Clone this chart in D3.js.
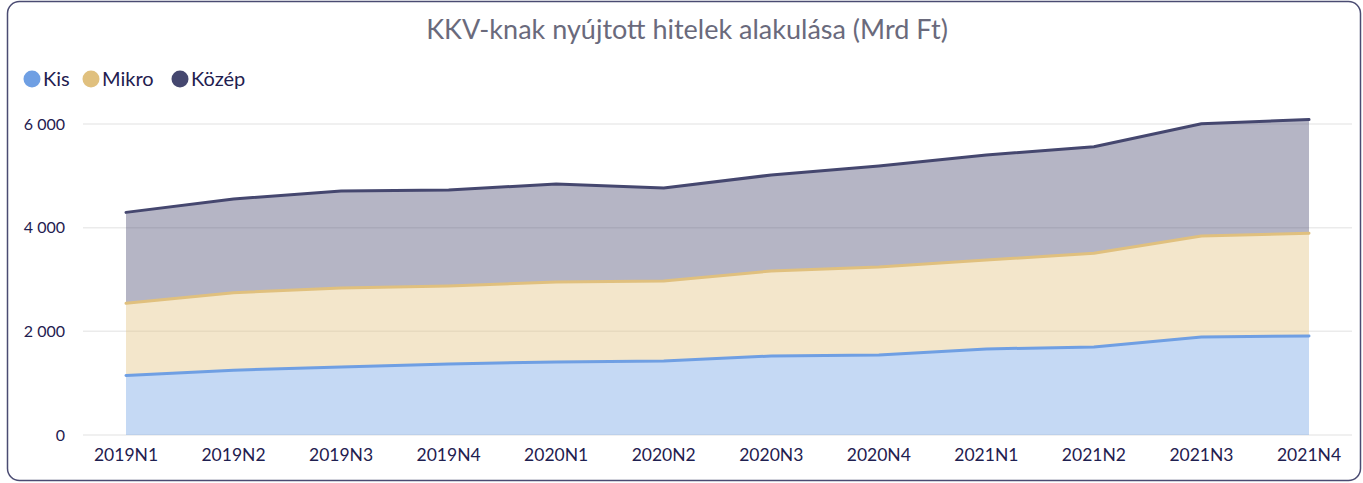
<!DOCTYPE html>
<html>
<head>
<meta charset="utf-8">
<script src="https://cdn.jsdelivr.net/npm/d3@7"></script>
<style>
  body { margin: 0; background: #fff; }
  svg { display: block; }
</style>
</head>
<body>
<svg id="chart" width="1363" height="483"></svg>
<script>
// values (Mrd Ft)
var quarters = ["2019N1", "2019N2", "2019N3", "2019N4", "2020N1", "2020N2",
                "2020N3", "2020N4", "2021N1", "2021N2", "2021N3", "2021N4"];
var kis   = [1150, 1250, 1310, 1370, 1410, 1430, 1525, 1545, 1660, 1700, 1890, 1910];
var mikro = [1390, 1495, 1526, 1505, 1542, 1541, 1639, 1696, 1716, 1806, 1950, 1982];
var kozep = [1755, 1810, 1872, 1852, 1891, 1795, 1852, 1949, 2026, 2054, 2165, 2193];
var yTicks = [0, 2000, 4000, 6000];

var seriesNames = ["Kis", "Mikro", "Közép"];
var colors = { "Kis": "#6f9fe3", "Mikro": "#e0c07e", "Közép": "#45476f" };

var rows = quarters.map(function(q, i) {
    return { q: q, "Kis": kis[i], "Mikro": mikro[i], "Közép": kozep[i] };
});

var svg = d3.select("#chart");

// frame
svg.append("rect")
    .attr("x", 7.5).attr("y", 1.5)
    .attr("width", 1353).attr("height", 479)
    .attr("rx", 12)
    .attr("fill", "#fff")
    .attr("stroke", "#4a4b72")
    .attr("stroke-width", 1.5);

svg.append("text")
    .attr("x", 687).attr("y", 39)
    .attr("text-anchor", "middle")
    .style("font", "27px Lato")
    .attr("fill", "#6a6a7c")
    .text("KKV-knak nyújtott hitelek alakulása (Mrd Ft)");

// legend
var lx = [32, 91, 180];
var legend = svg.append("g").selectAll("g")
    .data(seriesNames)
    .enter().append("g")
    .attr("transform", function(d, i) { return "translate(" + lx[i] + ",79)"; });
legend.append("circle").attr("r", 8.5).attr("fill", function(d) { return colors[d]; });
legend.append("text")
    .attr("x", 11).attr("dy", "0.35em")
    .style("font", "20px Lato")
    .attr("fill", "#1f2050")
    .text(function(d) { return d; });

var x = d3.scalePoint().domain(quarters).range([126, 1309]);
var y = d3.scaleLinear().domain([0, 6000]).range([435, 124]);

// grid
svg.append("g").selectAll("line")
    .data(yTicks)
    .enter().append("line")
    .attr("x1", 83).attr("x2", 1352)
    .attr("y1", function(d) { return y(d); })
    .attr("y2", function(d) { return y(d); })
    .attr("stroke", "#ebebeb")
    .attr("stroke-width", 1.5);

var fmt = function(d) { return d3.format(",")(d).replace(/,/g, " "); };
svg.append("g").selectAll("text")
    .data(yTicks)
    .enter().append("text")
    .attr("x", 65)
    .attr("y", function(d) { return y(d); })
    .attr("dy", "0.35em")
    .attr("text-anchor", "end")
    .style("font", "16px Lato")
    .attr("fill", "#1f2050")
    .text(fmt);

svg.append("g").selectAll("text")
    .data(quarters)
    .enter().append("text")
    .attr("x", function(d) { return x(d); })
    .attr("y", 461)
    .attr("text-anchor", "middle")
    .style("font", "17.5px Lato")
    .attr("fill", "#1f2050")
    .text(function(d) { return d; });

var stacked = d3.stack().keys(seriesNames)(rows);

var area = d3.area()
    .x(function(d) { return x(d.data.q); })
    .y0(function(d) { return y(d[0]); })
    .y1(function(d) { return y(d[1]); });

var line = d3.line()
    .x(function(d) { return x(d.data.q); })
    .y(function(d) { return y(d[1]); });

svg.append("g").selectAll("path")
    .data(stacked)
    .enter().append("path")
    .attr("d", area)
    .attr("fill", function(d) { return colors[d.key]; })
    .attr("fill-opacity", 0.4);

svg.append("g").selectAll("path")
    .data(stacked)
    .enter().append("path")
    .attr("d", line)
    .attr("fill", "none")
    .attr("stroke", function(d) { return colors[d.key]; })
    .attr("stroke-width", 3)
    .attr("stroke-linejoin", "round")
    .attr("stroke-linecap", "round");
</script>
</body>
</html>
